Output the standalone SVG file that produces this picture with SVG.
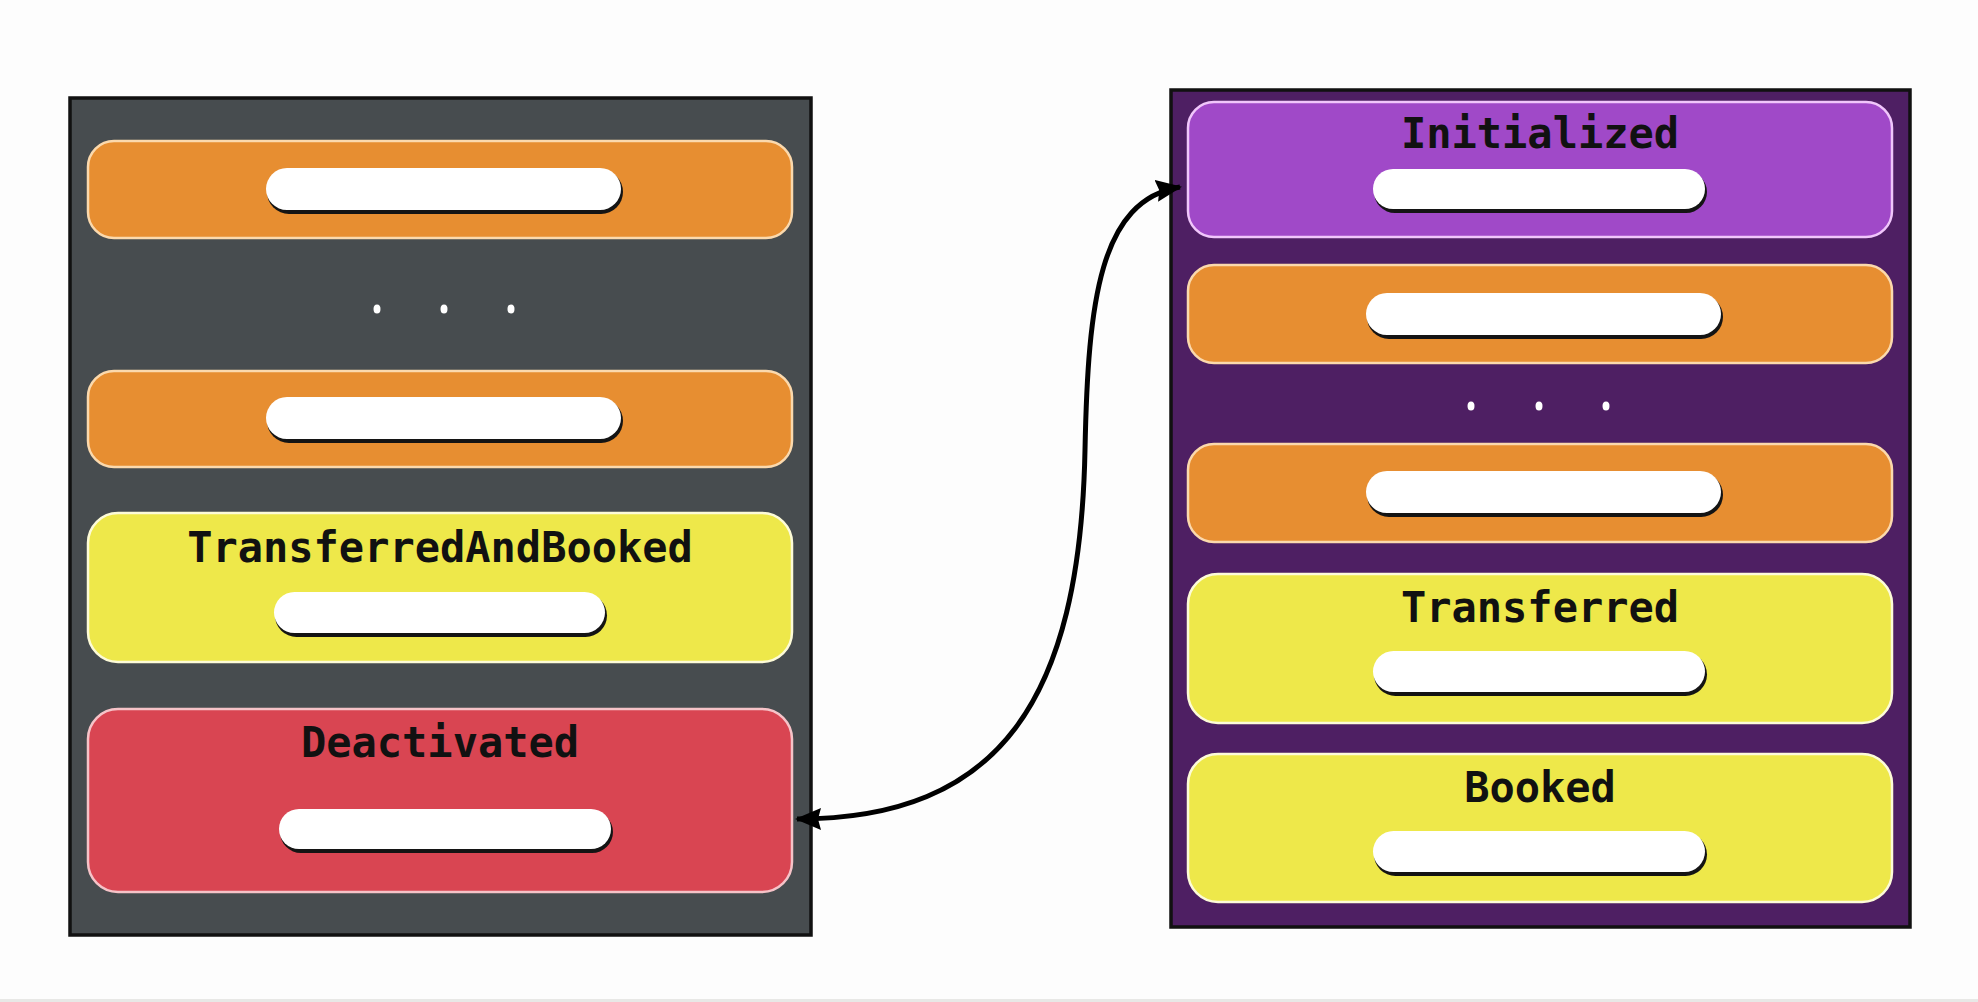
<svg xmlns="http://www.w3.org/2000/svg" width="1978" height="1002" viewBox="0 0 1978 1002">
  <defs>
    <style>
      .panel { stroke: #111; stroke-width: 3.5; }
      .node { stroke-width: 2.5; }
      .orange { fill: #e78e31; stroke: #fbd9ad; }
      .yellow { fill: #eee84a; stroke: #fdfbd8; }
      .red { fill: #d94552; stroke: #f6c3c8; }
      .purple { fill: #a049c8; stroke: #f0c6fb; }
      .pill-shadow { fill: #141414; }
      .pill { fill: #ffffff; }
      .label { font-family: "DejaVu Sans Mono", "Liberation Mono", monospace; font-weight: bold; font-size: 42px; fill: #111; text-anchor: middle; }
      .dot { fill: #ffffff; }
      .conn { fill: none; stroke: #000; stroke-width: 5; }
    </style>
    <marker id="arrowEnd" viewBox="0 0 26 22" refX="24" refY="11" markerWidth="26" markerHeight="22" markerUnits="userSpaceOnUse" orient="auto">
      <path d="M0,0 L26,11 L0,22 L3,11 Z" fill="#000"/>
    </marker>
    <marker id="arrowStart" viewBox="0 0 26 22" refX="2" refY="11" markerWidth="26" markerHeight="22" markerUnits="userSpaceOnUse" orient="auto">
      <path d="M26,0 L0,11 L26,22 L23,11 Z" fill="#000"/>
    </marker>
  </defs>

  <rect x="0" y="0" width="1978" height="1002" fill="#fdfdfd"/>
  <rect x="0" y="999" width="1978" height="3" fill="#e8e8e6"/>

  <!-- Left panel -->
  <g id="left-panel">
    <rect class="panel" x="70" y="98" width="741" height="837" fill="#474c4f"/>

    <g id="left-orange-1">
      <rect class="node orange" x="88" y="141" width="704" height="97" rx="26"/>
      <rect class="pill-shadow" x="267" y="170" width="356" height="44" rx="22"/>
      <rect class="pill" x="266" y="168" width="355" height="42" rx="21"/>
    </g>

    <g id="left-dots">
      <ellipse class="dot" cx="377" cy="309" rx="3.5" ry="4.5"/>
      <ellipse class="dot" cx="444" cy="309" rx="3.5" ry="4.5"/>
      <ellipse class="dot" cx="511" cy="309" rx="3.5" ry="4.5"/>
    </g>

    <g id="left-orange-2">
      <rect class="node orange" x="88" y="371" width="704" height="96" rx="26"/>
      <rect class="pill-shadow" x="267" y="399" width="356" height="44" rx="22"/>
      <rect class="pill" x="266" y="397" width="355" height="42" rx="21"/>
    </g>

    <g id="transferred-and-booked">
      <rect class="node yellow" x="88" y="513" width="704" height="149" rx="30"/>
      <text class="label" x="440" y="562">TransferredAndBooked</text>
      <rect class="pill-shadow" x="275" y="594" width="332" height="43" rx="21.5"/>
      <rect class="pill" x="274" y="592" width="331" height="41" rx="20.5"/>
    </g>

    <g id="deactivated">
      <rect class="node red" x="88" y="709" width="704" height="183" rx="30"/>
      <text class="label" x="440" y="757">Deactivated</text>
      <rect class="pill-shadow" x="280" y="811" width="333" height="42" rx="21"/>
      <rect class="pill" x="279" y="809" width="332" height="40" rx="20"/>
    </g>
  </g>

  <!-- Right panel -->
  <g id="right-panel">
    <rect class="panel" x="1171" y="90" width="739" height="837" fill="#4e1f63"/>

    <g id="initialized">
      <rect class="node purple" x="1188" y="102" width="704" height="135" rx="26"/>
      <text class="label" x="1540" y="148">Initialized</text>
      <rect class="pill-shadow" x="1374" y="171" width="333" height="42" rx="21"/>
      <rect class="pill" x="1373" y="169" width="332" height="40" rx="20"/>
    </g>

    <g id="right-orange-1">
      <rect class="node orange" x="1188" y="265" width="704" height="98" rx="26"/>
      <rect class="pill-shadow" x="1367" y="295" width="356" height="44" rx="22"/>
      <rect class="pill" x="1366" y="293" width="355" height="42" rx="21"/>
    </g>

    <g id="right-dots">
      <ellipse class="dot" cx="1471" cy="406" rx="3.5" ry="4.5"/>
      <ellipse class="dot" cx="1539" cy="406" rx="3.5" ry="4.5"/>
      <ellipse class="dot" cx="1606" cy="406" rx="3.5" ry="4.5"/>
    </g>

    <g id="right-orange-2">
      <rect class="node orange" x="1188" y="444" width="704" height="98" rx="26"/>
      <rect class="pill-shadow" x="1367" y="473" width="356" height="44" rx="22"/>
      <rect class="pill" x="1366" y="471" width="355" height="42" rx="21"/>
    </g>

    <g id="transferred">
      <rect class="node yellow" x="1188" y="574" width="704" height="149" rx="30"/>
      <text class="label" x="1540" y="622">Transferred</text>
      <rect class="pill-shadow" x="1374" y="653" width="333" height="43" rx="21.5"/>
      <rect class="pill" x="1373" y="651" width="332" height="41" rx="20.5"/>
    </g>

    <g id="booked">
      <rect class="node yellow" x="1188" y="754" width="704" height="148" rx="30"/>
      <text class="label" x="1540" y="802">Booked</text>
      <rect class="pill-shadow" x="1374" y="833" width="333" height="43" rx="21.5"/>
      <rect class="pill" x="1373" y="831" width="332" height="41" rx="20.5"/>
    </g>
  </g>

  <!-- Connectors -->
  <g id="connectors">
    <path class="conn" d="M 797 819 C 1000 819, 1080 700, 1085 450 C 1088 300, 1100 200, 1180 187" marker-start="url(#arrowStart)" marker-end="url(#arrowEnd)"/>
  </g>
</svg>
